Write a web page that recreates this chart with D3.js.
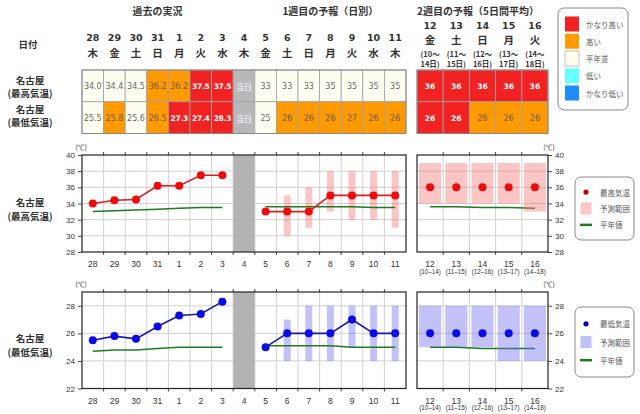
<!DOCTYPE html>
<html><head><meta charset="utf-8">
<script src="https://cdn.jsdelivr.net/npm/d3@7"></script>
<style>body{margin:0;background:#fff;} svg{display:block;}</style>
</head><body><svg id="c" width="640" height="414"></svg>
<script>
// ---------- data ----------
const days1 = ["28","29","30","31","1","2","3","4","5","6","7","8","9","10","11"];
const weekdays1 = ["木","金","土","日","月","火","水","木","金","土","日","月","火","水","木"];
const days2 = ["12","13","14","15","16"];
const weekdays2 = ["金","土","日","月","火"];
const periodStart2 = ["(10～","(11～","(12～","(13～","(14～"];
const periodEnd2 = ["14日)","15日)","16日)","17日)","18日)"];
const periodAxis2 = ["(10–14)","(11–15)","(12–16)","(13–17)","(14–18)"];
const pastDays = ["28","29","30","31","1","2","3"];
const todayDay = "4";
const fcDays = ["5","6","7","8","9","10","11"];

const sectionTitles = ["過去の実況","1週目の予報（日別）","2週目の予報（5日間平均）"];

const tblMaxText1 = ["34.0","34.4","34.5","36.2","36.2","37.5","37.5","当日","33","33","33","35","35","35","35"];
const tblMaxClass1 = ["n","n","n","h","h","vh","vh","g","n","n","n","n","n","n","n"];
const tblMinText1 = ["25.5","25.8","25.6","26.5","27.3","27.4","28.3","当日","25","26","26","26","27","26","26"];
const tblMinClass1 = ["n","h","n","h","vh","vh","vh","g","n","h","h","h","h","h","h"];
const tblMaxText2 = ["36","36","36","36","36"];
const tblMaxClass2 = ["vh","vh","vh","vh","vh"];
const tblMinText2 = ["26","26","26","26","26"];
const tblMinClass2 = ["vh","vh","h","h","h"];

const classKeys = ["vh","h","n","l","vl"];
const classNames = ["かなり高い","高い","平年並","低い","かなり低い"];

// max temperature chart
const obsMax = [34.0,34.4,34.5,36.2,36.2,37.5,37.5];
const normMaxPast = [33.0,33.1,33.2,33.3,33.4,33.5,33.5];
const fcMax = [33,33,33,35,35,35,35];
const fcMaxLo = [null,30,31,33,32,32,31];
const fcMaxHi = [null,35,36,38,38,38,38];
const normMaxFc = [33.6,33.6,33.6,33.6,33.6,33.5,33.5];
const wk2Max = [36,36,36,36,36];
const wk2MaxLo = [34,34,34,34,33];
const wk2MaxHi = [39,39,39,39,39];
const normMaxWk2 = [33.6,33.6,33.5,33.5,33.4];
const maxTicks = [28,30,32,34,36,38,40];

// min temperature chart
const obsMin = [25.5,25.8,25.6,26.5,27.3,27.4,28.3];
const normMinPast = [24.7,24.8,24.8,24.9,25.0,25.0,25.0];
const fcMin = [25,26,26,26,27,26,26];
const fcMinLo = [null,24,24,24,25,24,24];
const fcMinHi = [null,27,28,28,28,28,28];
const normMinFc = [25.1,25.1,25.1,25.1,25.0,25.0,25.0];
const wk2Min = [26,26,26,26,26];
const wk2MinLo = [25,25,25,24,24];
const wk2MinHi = [28,28,28,28,28];
const normMinWk2 = [25.0,25.0,24.9,24.9,24.9];
const minTicks = [22,24,26,28];

// ---------- drawing ----------
const svg = d3.select("#c");
const JP = "'Noto Sans CJK JP', sans-serif";
const NUM = "'DejaVu Sans', Verdana, sans-serif";
const AX = "'Liberation Sans', Arial, sans-serif";

const x1 = d3.scaleBand().domain(days1).range([82, 406]);
const x2 = d3.scaleBand().domain(days2).range([417, 548]);
const b1 = x1.bandwidth(), b2 = x2.bandwidth();
const rowY = d3.scaleBand().domain(["max","min"]).range([70, 133.5]);

const fillOf = {vh:"#f22222", h:"#ff9a00", n:"#fffcf0", g:"#b8b8b8", l:"#66ffff", vl:"#1e8cff"};
const textOf = {vh:"#ffffff", h:"#6e5838", n:"#6a6a6a", g:"#ffffff"};

// section titles
svg.append("text").attr("x", x1("28") + 3.5*b1).attr("y", 15).text(sectionTitles[0]);
svg.append("text").attr("x", (x1("5") + 406)/2).attr("y", 15).text(sectionTitles[1]);
svg.append("text").attr("x", 478).attr("y", 15).text(sectionTitles[2]);
svg.selectAll("text").attr("text-anchor","middle").attr("font-family",JP)
  .attr("font-size",10).attr("font-weight","bold").attr("fill","#333");

// 日付
svg.append("text").attr("x",28).attr("y",44).attr("dominant-baseline","central")
  .attr("text-anchor","middle").attr("font-family",JP).attr("font-size",9.5)
  .attr("font-weight","bold").attr("fill","#333").text("日付");

// date headers week1
const hdr1 = svg.append("g");
hdr1.selectAll("text.d").data(days1).join("text")
  .attr("x", d => x1(d)+b1/2).attr("y", 37).attr("dominant-baseline","central")
  .attr("text-anchor","middle").attr("font-family",NUM).attr("font-size",9.5)
  .attr("font-weight","bold").attr("fill","#333").text(d=>d);
hdr1.selectAll("text.w").data(weekdays1).join("text")
  .attr("x", (d,i) => x1(days1[i])+b1/2).attr("y", 52).attr("dominant-baseline","central")
  .attr("text-anchor","middle").attr("font-family",JP).attr("font-size",10.5)
  .attr("font-weight","bold").attr("fill","#333").text(d=>d);
// date headers week2
const hdr2 = svg.append("g");
days2.forEach((d,i) => {
  const cx = x2(d)+b2/2;
  hdr2.append("text").attr("x",cx).attr("y",25).attr("font-family",NUM).attr("font-size",9.5).attr("font-weight","bold").text(d);
  hdr2.append("text").attr("x",cx).attr("y",39.5).attr("font-family",JP).attr("font-size",10.5).attr("font-weight","bold").text(weekdays2[i]);
  hdr2.append("text").attr("x",cx).attr("y",53.5).attr("font-family",JP).attr("font-size",7.5).attr("font-weight","bold").text(periodStart2[i]);
  hdr2.append("text").attr("x",cx).attr("y",63.5).attr("font-family",JP).attr("font-size",7.5).attr("font-weight","bold").text(periodEnd2[i]);
});
hdr2.selectAll("text").attr("text-anchor","middle").attr("dominant-baseline","central").attr("fill","#333");

// row labels
function rowLabel(y, gap, l1, l2) {
  svg.append("text").attr("x",30).attr("y",y).attr("text-anchor","middle").attr("dominant-baseline","central")
    .attr("font-family",JP).attr("font-size",9.5).attr("font-weight","bold").attr("fill","#333").text(l1);
  svg.append("text").attr("x",30).attr("y",y+gap).attr("text-anchor","middle").attr("dominant-baseline","central")
    .attr("font-family",JP).attr("font-size",9.5).attr("font-weight","bold").attr("fill","#333").text(l2);
}
rowLabel(80, 12.5, "名古屋", "(最高気温)");
rowLabel(108.5, 13, "名古屋", "(最低気温)");

// table
function tableRow(xs, keys, row, texts, classes) {
  const g = svg.append("g");
  const bw = xs.bandwidth();
  g.selectAll("rect").data(keys).join("rect")
    .attr("x", d => xs(d)).attr("y", rowY(row)).attr("width", bw).attr("height", rowY.bandwidth())
    .attr("fill", (d,i) => fillOf[classes[i]]).attr("stroke","#a0a0a0").attr("stroke-width",0.8);
  g.selectAll("text").data(keys).join("text")
    .attr("x", d => xs(d)+bw/2).attr("y", rowY(row)+rowY.bandwidth()/2+0.5)
    .attr("text-anchor","middle").attr("dominant-baseline","central")
    .attr("font-family", (d,i) => texts[i]==="当日" ? JP : NUM)
    .attr("font-size", (d,i) => classes[i]==="vh" ? 7.6 : 8)
    .attr("letter-spacing", (d,i) => classes[i]==="vh" && texts[i].length > 2 ? -0.3 : 0)
    .attr("font-weight", (d,i) => classes[i]==="vh" ? "bold" : "normal")
    .attr("fill", (d,i) => textOf[classes[i]]).text((d,i)=>texts[i]);
}
tableRow(x1, days1, "max", tblMaxText1, tblMaxClass1);
tableRow(x1, days1, "min", tblMinText1, tblMinClass1);
tableRow(x2, days2, "max", tblMaxText2, tblMaxClass2);
tableRow(x2, days2, "min", tblMinText2, tblMinClass2);
svg.append("rect").attr("x",82).attr("y",70).attr("width",324).attr("height",63.5).attr("fill","none").attr("stroke","#888").attr("stroke-width",1);
svg.append("rect").attr("x",417).attr("y",70).attr("width",131).attr("height",63.5).attr("fill","none").attr("stroke","#888").attr("stroke-width",1);

// colour legend
const lg = svg.append("g");
lg.append("rect").attr("x",558).attr("y",8).attr("width",70).attr("height",102).attr("rx",6)
  .attr("fill","#fff").attr("stroke","#888").attr("stroke-width",1);
const lgy = d3.scalePoint().domain(classKeys).range([24, 93]);
lg.selectAll("rect.s").data(classKeys).join("rect").attr("class","s")
  .attr("x",565).attr("y",d=>lgy(d)-7.5).attr("width",14).attr("height",15)
  .attr("fill",d=>fillOf[d]).attr("stroke",d=> d==="n" ? "#999" : "none").attr("stroke-width",0.6);
lg.selectAll("text").data(classKeys).join("text")
  .attr("x",586).attr("y",d=>lgy(d)).attr("dominant-baseline","central")
  .attr("font-family",JP).attr("font-size",7.5).attr("fill","#555").text((d,i)=>classNames[i]);

// charts
function drawChart(c) {
  const g = svg.append("g");
  const y = d3.scaleLinear().domain(c.domain).range(c.range);
  const top = c.range[1], bot = c.range[0];
  const panels = [[x1, days1], [x2, days2]];
  // background grid
  panels.forEach(([xs, dom]) => {
    const [l, r] = xs.range();
    g.selectAll(null).data(c.ticks.filter(t => t > c.domain[0] && t < c.domain[1])).join("line")
      .attr("x1", l).attr("x2", r).attr("y1", d=>y(d)).attr("y2", d=>y(d))
      .attr("stroke","#d0d0d0").attr("stroke-width",1);
    const bnd = dom.slice(1).map(d => xs(d));
    g.selectAll(null).data(bnd).join("line")
      .attr("x1", d=>d).attr("x2", d=>d).attr("y1", top).attr("y2", bot)
      .attr("stroke","#d0d0d0").attr("stroke-width",1);
    g.selectAll(null).data(bnd).join("line")
      .attr("x1", d=>d).attr("x2", d=>d).attr("y1", top-3).attr("y2", top)
      .attr("stroke","#444").attr("stroke-width",1);
    g.selectAll(null).data(bnd).join("line")
      .attr("x1", d=>d).attr("x2", d=>d).attr("y1", bot).attr("y2", bot+3)
      .attr("stroke","#444").attr("stroke-width",1);
  });
  // today column
  g.append("rect").attr("x", x1(todayDay)).attr("y", top).attr("width", b1).attr("height", bot-top).attr("fill","#b3b3b3");

  const cx1 = d => x1(d)+b1/2, cx2 = d => x2(d)+b2/2;
  // range bars week1
  g.selectAll(null).data(fcDays.filter((d,i)=>c.fcLo[i]!=null)).join("rect")
    .attr("x", d => cx1(d)-3.5).attr("width",7)
    .attr("y", d => y(c.fcHi[fcDays.indexOf(d)]))
    .attr("height", d => y(c.fcLo[fcDays.indexOf(d)]) - y(c.fcHi[fcDays.indexOf(d)]))
    .attr("fill", c.rangeFill);
  // normals
  const ln = (xf, ds) => d3.line().x((v,i)=>xf(ds[i])).y(v=>y(v));
  const green = "#1f7a1f";
  g.append("path").attr("d", ln(cx1, pastDays)(c.normPast)).attr("fill","none").attr("stroke",green).attr("stroke-width",1.5);
  g.append("path").attr("d", ln(cx1, fcDays)(c.normFc)).attr("fill","none").attr("stroke",green).attr("stroke-width",1.5);
  g.append("path").attr("d", ln(cx2, days2)(c.normWk2)).attr("fill","none").attr("stroke",green).attr("stroke-width",1.5);
  // range rects week2
  g.selectAll(null).data(days2).join("rect")
    .attr("x", d => x2(d)+2).attr("width", b2-4)
    .attr("y", (d,i) => y(c.wk2Hi[i])).attr("height", (d,i) => y(c.wk2Lo[i]) - y(c.wk2Hi[i]))
    .attr("fill", c.rangeFill);
  // series lines
  g.append("path").attr("d", ln(cx1, pastDays)(c.obs)).attr("fill","none").attr("stroke",c.lineColor).attr("stroke-width",1.6);
  g.append("path").attr("d", ln(cx1, fcDays)(c.fc)).attr("fill","none").attr("stroke",c.lineColor).attr("stroke-width",1.6);
  // points
  g.selectAll(null).data(c.obs).join("circle").attr("cx",(v,i)=>cx1(pastDays[i])).attr("cy",v=>y(v)).attr("r",4).attr("fill",c.dotColor);
  g.selectAll(null).data(c.fc).join("circle").attr("cx",(v,i)=>cx1(fcDays[i])).attr("cy",v=>y(v)).attr("r",4).attr("fill",c.dotColor);
  g.selectAll(null).data(c.wk2).join("circle").attr("cx",(v,i)=>cx2(days2[i])).attr("cy",v=>y(v)).attr("r",4).attr("fill",c.dotColor);

  // frames
  g.append("rect").attr("x",82).attr("y",top).attr("width",324).attr("height",bot-top).attr("fill","none").attr("stroke","#222").attr("stroke-width",1.2);
  g.append("rect").attr("x",417).attr("y",top).attr("width",131).attr("height",bot-top).attr("fill","none").attr("stroke","#222").attr("stroke-width",1.2);

  // y axes
  const fmt = d3.format("d");
  const axL = g.append("g").attr("transform","translate(82,0)").call(d3.axisLeft(y).tickValues(c.ticks).tickFormat(fmt).tickSize(4).tickPadding(3));
  const axR = g.append("g").attr("transform","translate(548,0)").call(d3.axisRight(y).tickValues(c.ticks).tickFormat(fmt).tickSize(4).tickPadding(3));
  [axL, axR].forEach(a => {
    a.select(".domain").remove();
    a.selectAll("line").attr("stroke","#444");
    a.selectAll("text").attr("font-family",AX).attr("font-size",8).attr("fill","#333");
  });
  // x labels
  const xa1 = g.append("g").attr("transform",`translate(0,${bot})`).call(d3.axisBottom(x1).tickSize(0).tickPadding(c.xPad));
  const xa2 = g.append("g").attr("transform",`translate(0,${bot})`).call(d3.axisBottom(x2).tickSize(0).tickPadding(c.xPad));
  [xa1, xa2].forEach(a => {
    a.select(".domain").remove();
    a.selectAll("text").attr("font-family",AX).attr("font-size",8.5).attr("fill","#333");
  });
  g.selectAll(null).data(periodAxis2).join("text")
    .attr("x",(d,i)=>cx2(days2[i])).attr("y", bot+19).attr("text-anchor","middle").attr("dominant-baseline","central")
    .attr("font-family",AX).attr("font-size",6.3).attr("fill","#333").text(d=>d);
  // unit labels
  [81, 549].forEach(x => g.append("text").attr("x",x).attr("y",top-8).attr("text-anchor","middle")
    .attr("dominant-baseline","central").attr("font-family",JP).attr("font-size",7).attr("fill","#333").text("(℃)"));
  // row label
  svg.append("text").attr("x",30).attr("y",c.labelY).attr("text-anchor","middle").attr("dominant-baseline","central")
    .attr("font-family",JP).attr("font-size",9.5).attr("font-weight","bold").attr("fill","#333").text("名古屋");
  svg.append("text").attr("x",30).attr("y",c.labelY+14).attr("text-anchor","middle").attr("dominant-baseline","central")
    .attr("font-family",JP).attr("font-size",9.5).attr("font-weight","bold").attr("fill","#333").text(c.rowName);

  // legend
  const L = c.legend;
  const lgc = g.append("g");
  lgc.append("rect").attr("x",575).attr("y",L.y).attr("width",59).attr("height",L.h).attr("rx",6)
    .attr("fill","#fff").attr("stroke","#888").attr("stroke-width",1);
  const ys = [L.y + L.h*0.24, L.y + L.h*0.5, L.y + L.h*0.76];
  lgc.append("circle").attr("cx",586).attr("cy",ys[0]).attr("r",2.6).attr("fill",c.legendDot);
  lgc.append("rect").attr("x",580.5).attr("y",ys[1]-6).attr("width",11).attr("height",12).attr("fill",c.rangeFill);
  lgc.append("line").attr("x1",580).attr("x2",592).attr("y1",ys[2]).attr("y2",ys[2]).attr("stroke",green).attr("stroke-width",2.5);
  [c.seriesName, "予測範囲", "平年値"].forEach((t,i) => lgc.append("text").attr("x",600).attr("y",ys[i])
    .attr("dominant-baseline","central").attr("font-family",JP).attr("font-size",7.5).attr("fill","#555").text(t));
}

drawChart({
  domain:[28,40], range:[252,155], ticks:maxTicks,
  obs:obsMax, normPast:normMaxPast, fc:fcMax, fcLo:fcMaxLo, fcHi:fcMaxHi, normFc:normMaxFc,
  wk2:wk2Max, wk2Lo:wk2MaxLo, wk2Hi:wk2MaxHi, normWk2:normMaxWk2,
  lineColor:"#d42020", dotColor:"#f00a0a", legendDot:"#c00000", rangeFill:"rgba(242,110,110,0.4)",
  xPad:9, labelY:202, rowName:"(最高気温)", seriesName:"最高気温",
  legend:{y:177, h:63}
});
drawChart({
  domain:[22,29], range:[388.5,292], ticks:minTicks,
  obs:obsMin, normPast:normMinPast, fc:fcMin, fcLo:fcMinLo, fcHi:fcMinHi, normFc:normMinFc,
  wk2:wk2Min, wk2Lo:wk2MinLo, wk2Hi:wk2MinHi, normWk2:normMinWk2,
  lineColor:"#1a1a9e", dotColor:"#0a0ae6", legendDot:"#0000b0", rangeFill:"rgba(110,110,240,0.42)",
  xPad:9, labelY:338, rowName:"(最低気温)", seriesName:"最低気温",
  legend:{y:307, h:70}
});
</script>
</body></html>
